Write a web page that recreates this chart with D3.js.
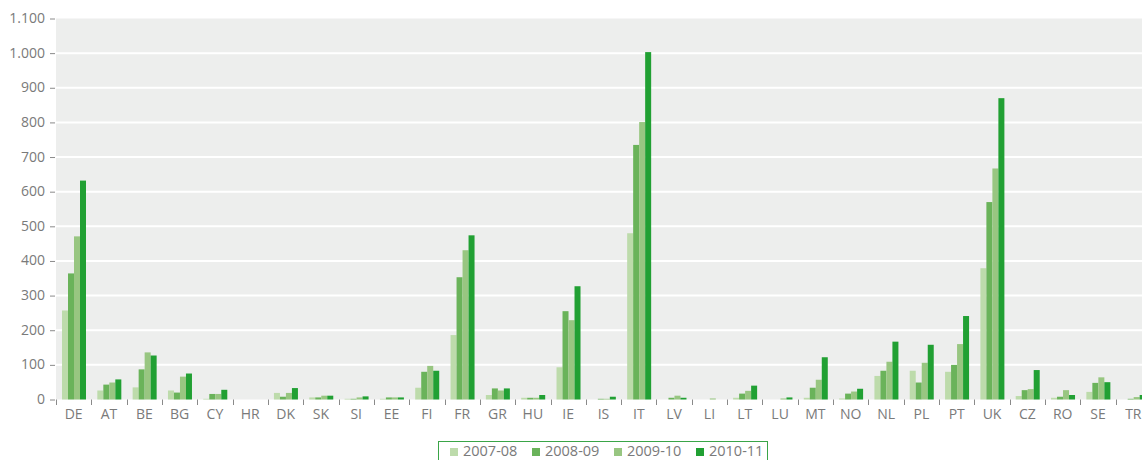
<!DOCTYPE html>
<html>
<head>
<meta charset="utf-8">
<script src="https://cdn.jsdelivr.net/npm/d3@7"></script>
<style>
  body { margin: 0; background: #fff; }
  text { font-family: "Open Sans", sans-serif; fill: #7a7a7a; }
</style>
</head>
<body>
<script>
var width = 1142, height = 460;

// countries along the x axis
var countries = ["DE","AT","BE","BG","CY","HR","DK","SK","SI","EE","FI","FR","GR","HU","IE","IS","IT","LV","LI","LT","LU","MT","NO","NL","PL","PT","UK","CZ","RO","SE","TR"];
var seriesNames = ["2007-08","2008-09","2009-10","2010-11"];
var seriesColors = ["#bddbab","#6ab35a","#98c681","#21a033"];

// values, one per country
var v0708 = [257,26,35,26,2,0,19,6,2,2,34,186,13,5,93,0,480,0,0,5,0,5,3,68,83,80,379,10,5,22,0];
var v0809 = [364,43,87,20,16,0,8,6,2,6,80,353,32,5,255,2,735,5,0,17,0,34,17,83,49,100,570,27,8,48,2];
var v0910 = [471,49,136,66,16,0,19,11,6,6,97,431,26,5,229,2,801,11,3,25,3,57,23,109,106,160,667,30,27,64,7];
var v1011 = [632,58,127,75,28,0,33,11,9,6,83,474,32,13,327,8,1003,5,0,40,6,122,31,167,158,241,870,85,13,50,13];
var allSeries = [v0708, v0809, v0910, v1011];

var yTicks = d3.range(0, 1101, 100);

var svg = d3.select("body").append("svg")
  .attr("width", width)
  .attr("height", height);

var x = d3.scaleBand()
  .domain(countries)
  .range([56, 1151]);

var x1 = d3.scaleBand()
  .domain(d3.range(seriesNames.length))
  .range([6, 30]);

var y = d3.scaleLinear()
  .domain([0, 1100])
  .range([399.5, 18.5]);

// plot background
svg.append("rect")
  .attr("x", x.range()[0])
  .attr("y", y(1100))
  .attr("width", x.range()[1] - x.range()[0])
  .attr("height", y(0) - y(1100))
  .attr("fill", "#edeeed");

// gridlines
svg.selectAll(".grid")
  .data(yTicks.filter(function(t) { return t > 0 && t < 1100; }))
  .enter().append("line")
  .attr("class", "grid")
  .attr("x1", x.range()[0])
  .attr("x2", x.range()[1])
  .attr("y1", function(d) { return y(d); })
  .attr("y2", function(d) { return y(d); })
  .attr("stroke", "#fff")
  .attr("stroke-width", 2);

// y axis: small ticks + labels
svg.selectAll(".ytick")
  .data(yTicks)
  .enter().append("line")
  .attr("x1", 50).attr("x2", 55)
  .attr("y1", function(d) { return y(d) + 0.5; })
  .attr("y2", function(d) { return y(d) + 0.5; })
  .attr("stroke", "#8a8a8a");

svg.selectAll(".ylab")
  .data(yTicks)
  .enter().append("text")
  .attr("x", 45)
  .attr("y", function(d) { return y(d) + 4.5; })
  .attr("text-anchor", "end")
  .attr("font-size", 14)
  .text(function(d) { return d >= 1000 ? d3.format(",")(d).replace(",", ".") : d; });

// bars
var groups = svg.selectAll(".country")
  .data(countries)
  .enter().append("g")
  .attr("transform", function(c) { return "translate(" + x(c) + ",0)"; });

groups.each(function(c, i) {
  d3.select(this).selectAll("rect")
    .data(allSeries.map(function(s, k) { return { k: k, v: s[i] }; }))
    .enter().append("rect")
    .attr("x", function(d) { return x1(d.k); })
    .attr("width", x1.bandwidth())
    .attr("y", function(d) { return y(d.v); })
    .attr("height", function(d) { return y(0) - y(d.v); })
    .attr("fill", function(d) { return seriesColors[d.k]; });
});

// x axis ticks at band edges
svg.selectAll(".xtick")
  .data(countries)
  .enter().append("line")
  .attr("x1", function(c) { return Math.round(x(c)) + 0.5; })
  .attr("x2", function(c) { return Math.round(x(c)) + 0.5; })
  .attr("y1", 399.5).attr("y2", 405)
  .attr("stroke", "#8a8a8a");

svg.selectAll(".xlab")
  .data(countries)
  .enter().append("text")
  .attr("x", function(c) { return x(c) + x.bandwidth() / 2; })
  .attr("y", 419)
  .attr("text-anchor", "middle")
  .attr("font-size", 14)
  .text(function(c) { return c; });

// legend
svg.append("rect")
  .attr("x", 438.5).attr("y", 441.5)
  .attr("width", 329).attr("height", 30)
  .attr("fill", "none")
  .attr("stroke", "#3aa548");

var legendStep = 82;
var legend = svg.selectAll(".leg")
  .data(seriesNames)
  .enter().append("g")
  .attr("transform", function(d, i) { return "translate(" + (450 + i * legendStep) + ",0)"; });

legend.append("rect")
  .attr("x", 0).attr("y", 448)
  .attr("width", 8).attr("height", 8)
  .attr("fill", function(d, i) { return seriesColors[i]; });

legend.append("text")
  .attr("x", 13).attr("y", 456)
  .attr("font-size", 14.5)
  .text(function(d) { return d; });
</script>
</body>
</html>
